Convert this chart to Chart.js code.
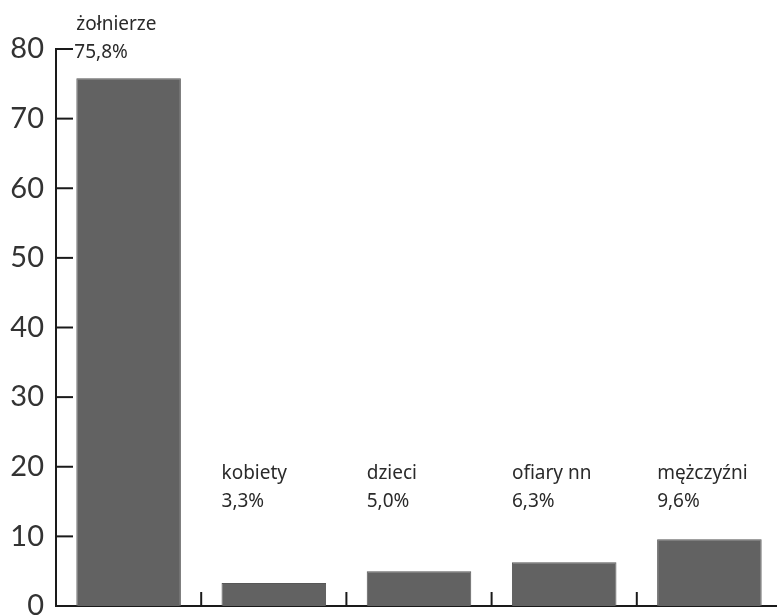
<!DOCTYPE html>
<html><head><meta charset="utf-8">
<script src="https://cdn.jsdelivr.net/npm/chart.js@4/dist/chart.umd.min.js"></script>
<style>html,body{margin:0;padding:0;background:#fff;overflow:hidden}#wrap{width:777px;height:616px;overflow:hidden}</style>
</head><body><div id="wrap"><canvas id="c" width="782" height="616"></canvas></div>
<script>
const categories = ["żołnierze", "kobiety", "dzieci", "ofiary nn", "mężczyźni"];
const values = [75.8, 3.3, 5.0, 6.3, 9.6];
const valueLabels = ["75,8%", "3,3%", "5,0%", "6,3%", "9,6%"];
const yTicks = [0, 10, 20, 30, 40, 50, 60, 70, 80];

const AXIS = '#1a1a1a';
const labelPlugin = {
  id: 'labels',
  afterDraw(chart) {
    const ctx = chart.ctx, a = chart.chartArea;
    const ys = chart.scales.y, xs = chart.scales.x;
    ctx.save();
    ctx.strokeStyle = AXIS; ctx.lineWidth = 2;
    yTicks.forEach(v => {
      if (v === 0) return;
      const py = ys.getPixelForValue(v);
      ctx.beginPath(); ctx.moveTo(a.left, py); ctx.lineTo(a.left + 17, py); ctx.stroke();
    });
    for (let i = 1; i < categories.length; i++) {
      const px = (xs.getPixelForValue(i - 1) + xs.getPixelForValue(i)) / 2;
      ctx.beginPath(); ctx.moveTo(px, a.bottom); ctx.lineTo(px, a.bottom - 14); ctx.stroke();
    }
    const meta = chart.getDatasetMeta(0);
    ctx.fillStyle = '#2a2a2a';
    ctx.font = '19px "Noto Sans"';
    ctx.textAlign = 'left'; ctx.textBaseline = 'middle';
    meta.data.forEach((bar, i) => {
      const left = bar.x - bar.width / 2;
      const isTop = values[i] > 50;
      const py = isTop ? ys.getPixelForValue(ys.max) + 4 : ys.getPixelForValue(15);
      ctx.fillText(valueLabels[i], left + (isTop ? -2 : 0), py);
      ctx.fillText(categories[i], left, py - 28);
    });
    ctx.restore();
  }
};

new Chart(document.getElementById('c'), {
  type: 'bar',
  data: {
    labels: categories,
    datasets: [{
      data: values,
      backgroundColor: '#626262',
      borderColor: '#575757',
      borderWidth: 1,
      barPercentage: 0.72,
      categoryPercentage: 1.0
    }]
  },
  options: {
    responsive: false,
    animation: false,
    layout: { padding: { top: 49, bottom: 10, left: 0, right: 0 } },
    plugins: { legend: { display: false }, tooltip: { enabled: false } },
    scales: {
      x: {
        grid: { display: false, drawTicks: false },
        border: { display: true, color: AXIS, width: 2 },
        ticks: { display: false },
        afterFit(s) { s.height = 0; s.paddingLeft = 0; s.paddingRight = 0; }
      },
      y: {
        min: 0, max: 80,
        afterBuildTicks(s) { s.ticks = yTicks.map(v => ({ value: v })); },
        grid: { display: false, drawTicks: false },
        border: { display: true, color: AXIS, width: 2 },
        ticks: { padding: 12, color: '#333', font: { family: 'Lato', size: 29, weight: '400' } },
        afterFit(s) { s.width = 56; s.paddingTop = 0; s.paddingBottom = 0; }
      }
    }
  },
  plugins: [labelPlugin]
});
</script></body></html>
